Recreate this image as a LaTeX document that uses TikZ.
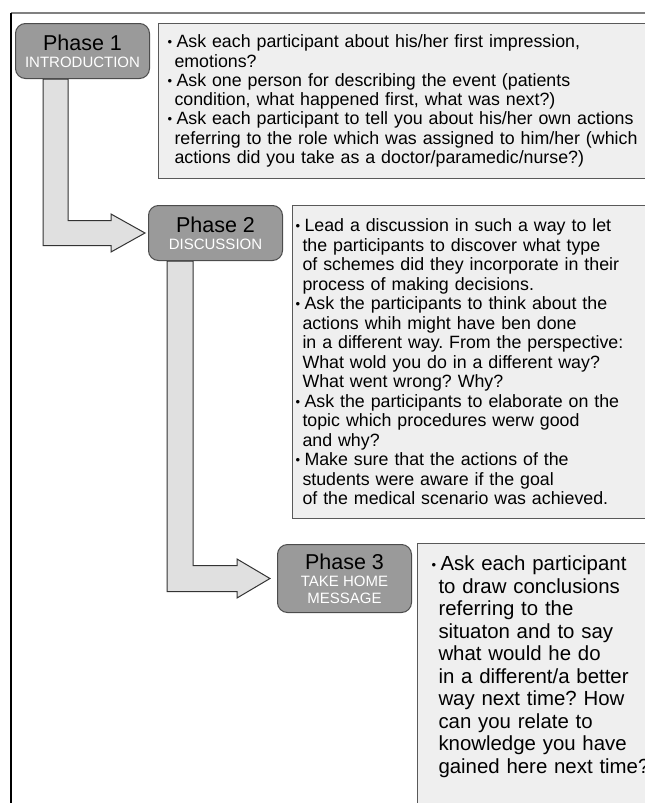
\documentclass[tikz,border=0pt]{standalone}
\usepackage{fontspec}
\setmainfont{Liberation Sans}
\usetikzlibrary{backgrounds}
\frenchspacing
\definecolor{phasegray}{HTML}{9A9A9A}
\definecolor{notegray}{HTML}{EFEFEF}
\definecolor{flowgray}{HTML}{E0E0E0}
\newcommand{\itm}{\makebox[9pt][l]{\fontsize{13}{13}\selectfont\raisebox{1pt}{•}}}
\newcommand{\cnt}{\hspace*{7pt}}
\newcommand{\phasetxt}[2]{{\color{black}\fontsize{21.5}{16.8}\selectfont #1}\\#2}

\begin{document}
\begin{tikzpicture}[x=1pt, y=-1pt,
    phase/.style={draw=black!70, fill=phasegray, rounded corners=10pt, line width=1pt,
        minimum width=134pt, anchor=north west, inner sep=0pt, align=center,
        text=white, font=\fontsize{15}{16.8}\selectfont},
    note/.style={draw=black!65, fill=notegray, line width=1pt, anchor=north west,
        align=left, inner ysep=0pt},
    flow/.style={draw=black!80, fill=flowgray, line width=1pt, line join=miter}]
    \clip (0,0) rectangle (645,803);
    % frame
    \draw[black!50, line width=1.5pt] (11,13) -- (660,13);
    \draw[line width=1.6pt] (11,13) -- (11,810);
    % phases
    \node[phase, minimum height=55pt] (p1) at (15,23) {\phasetxt{Phase 1}{INTRODUCTION}};
    \node[phase, minimum height=55pt] (p2) at (148,205) {\phasetxt{Phase 2}{DISCUSSION}};
    \node[phase, minimum height=68pt] (p3) at (277,544) {\phasetxt{Phase 3}{TAKE HOME\\MESSAGE}};
    % notes
    \node[note, text width=480pt, inner xsep=9pt, minimum height=155pt,
        font=\fontsize{17.8}{19.3}\selectfont] (t1) at (158,23) {%
        \itm Ask each participant about his/her first impression,\\
        \cnt emotions?\\
        \itm Ask one person for describing the event (patients\\
        \cnt condition, what happened first, what was next?)\\
        \itm Ask each participant to tell you about his/her own actions\\
        \cnt referring to the role which was assigned to him/her (which\\
        \cnt actions did you take as a doctor/paramedic/nurse?)};
    \node[note, text width=380pt, inner xsep=3pt, minimum height=313pt,
        font=\fontsize{17.8}{19.5}\selectfont] (t2) at (292,205) {%
        \itm Lead a discussion in such a way to let\\
        \cnt the participants to discover what type\\
        \cnt of schemes did they incorporate in their\\
        \cnt process of making decisions.\\
        \itm Ask the participants to think about the\\
        \cnt actions whih might have ben done\\
        \cnt in a different way. From the perspective:\\
        \cnt What wold you do in a different way?\\
        \cnt What went wrong? Why?\\
        \itm Ask the participants to elaborate on the\\
        \cnt topic which procedures werw good\\
        \cnt and why?\\
        \itm Make sure that the actions of the\\
        \cnt students were aware if the goal\\
        \cnt of the medical scenario was achieved.};
    \node[note, text width=240pt, inner xsep=14pt, inner ysep=12.7pt,
        font=\fontsize{20.4}{22.5}\selectfont] (t3) at (417,543) {%
        \itm Ask each participant\\
        \cnt to draw conclusions\\
        \cnt referring to the\\
        \cnt situaton and to say\\
        \cnt what would he do\\
        \cnt in a different/a better\\
        \cnt way next time? How\\
        \cnt can you relate to\\
        \cnt knowledge you have\\
        \cnt gained here next time?\\
        \rule{0pt}{40pt}};
    % bent arrows
    \coordinate (tip1) at ([xshift=-3pt]p2.west);
    \coordinate (tip2) at ([xshift=-7pt]p3.west);
    \begin{scope}[on background layer]
        \draw[flow] ([xshift=28pt]p1.south west) |- ([shift={(-34,12.5)}]tip1)
            -- ++(0,6.5) -- (tip1) -- ++(-34,-19) -- ++(0,6.5)
            -| ([xshift=53pt]p1.south west) -- cycle;
        \draw[flow] ([xshift=19pt]p2.south west) |- ([shift={(-33,13)}]tip2)
            -- ++(0,6.5) -- (tip2) -- ++(-33,-19.5) -- ++(0,6.5)
            -| ([xshift=45pt]p2.south west) -- cycle;
    \end{scope}
\end{tikzpicture}
\end{document}
